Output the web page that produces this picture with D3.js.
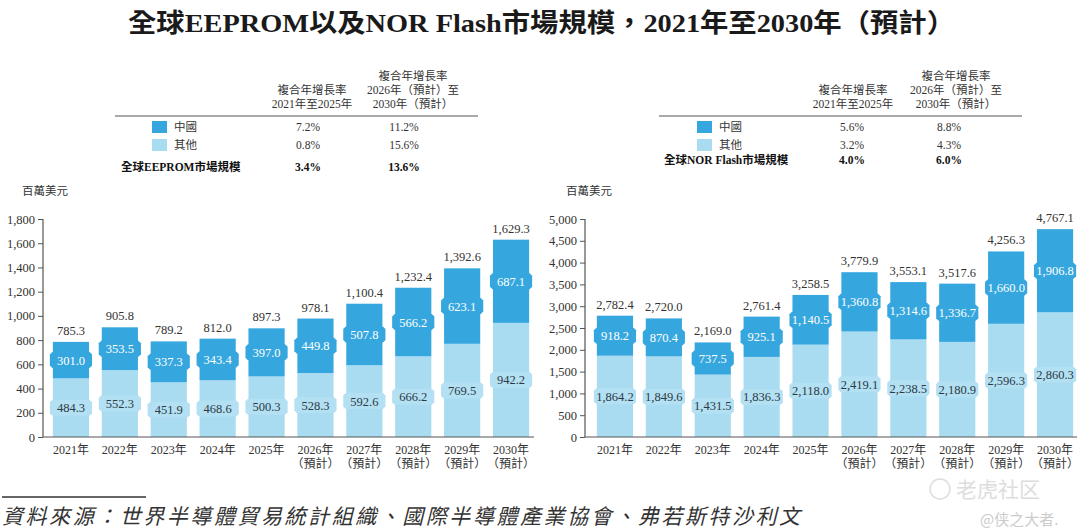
<!DOCTYPE html>
<html><head><meta charset="utf-8">
<script src="https://cdn.jsdelivr.net/npm/d3@7"></script>
<style>
body{margin:0;background:#fff;}
svg{display:block;}
text{font-family:"Liberation Serif","Noto Sans CJK TC",serif;fill:#333;}
</style></head><body>
<svg id="c" width="1080" height="531"></svg>
<script>
const years = ["2021年","2022年","2023年","2024年","2025年","2026年","2027年","2028年","2029年","2030年"];
const forecastFrom = 5; // index from which "（預計）" is shown
const eepromChina = [301.0,353.5,337.3,343.4,397.0,449.8,507.8,566.2,623.1,687.1];
const eepromOther = [484.3,552.3,451.9,468.6,500.3,528.3,592.6,666.2,769.5,942.2];
const eepromTotal = [785.3,905.8,789.2,812.0,897.3,978.1,1100.4,1232.4,1392.6,1629.3];
const norChina = [918.2,870.4,737.5,925.1,1140.5,1360.8,1314.6,1336.7,1660.0,1906.8];
const norOther = [1864.2,1849.6,1431.5,1836.3,2118.0,2419.1,2238.5,2180.9,2596.3,2860.3];
const norTotal = [2782.4,2720.0,2169.0,2761.4,3258.5,3779.9,3553.1,3517.6,4256.3,4767.1];
const eepromTicks = [0,200,400,600,800,1000,1200,1400,1600,1800];
const norTicks = [0,500,1000,1500,2000,2500,3000,3500,4000,4500,5000];
const eepromCagr = {china:["7.2%","11.2%"], other:["0.8%","15.6%"], total:["3.4%","13.6%"]};
const norCagr = {china:["5.6%","8.8%"], other:["3.2%","4.3%"], total:["4.0%","6.0%"]};

const DARK = "#36a7de", LIGHT = "#a9dcf1", LIGHTBOX = "#b3e0f3";
const svg = d3.select("#c");
const fmt = d3.format(",.1f");

// Title
svg.append("text").attr("x",128).attr("y",32)
  .attr("font-size",26).attr("font-weight","bold").style("fill","#1a1a1a")
  .attr("textLength",827).attr("lengthAdjust","spacingAndGlyphs")
  .text("全球EEPROM以及NOR Flash市場規模，2021年至2030年（預計）");

function table(g, o){
  const t = g.append("g");
  const fs = 11.5;
  t.append("text").attr("x",o.c1).attr("y",94).attr("text-anchor","middle").attr("font-size",fs).text("複合年增長率");
  t.append("text").attr("x",o.c1).attr("y",108).attr("text-anchor","middle").attr("font-size",fs).text("2021年至2025年");
  t.append("text").attr("x",o.c2).attr("y",80).attr("text-anchor","middle").attr("font-size",fs).text("複合年增長率");
  t.append("text").attr("x",o.c2).attr("y",94).attr("text-anchor","middle").attr("font-size",fs).text("2026年（預計）至");
  t.append("text").attr("x",o.c2).attr("y",108).attr("text-anchor","middle").attr("font-size",fs).text("2030年（預計）");
  t.append("line").attr("x1",o.l1).attr("x2",o.l2).attr("y1",116).attr("y2",116).attr("stroke","#555").attr("stroke-width",1.2);
  const rows = [{k:"china",lab:"中國",col:DARK,y:o.r1},{k:"other",lab:"其他",col:LIGHT,y:o.r2}];
  rows.forEach(r=>{
    t.append("rect").attr("x",o.sq).attr("y",r.y-10).attr("width",15).attr("height",12).attr("fill",r.col);
    t.append("text").attr("x",o.sq+22).attr("y",r.y).attr("font-size",fs).text(r.lab);
    t.append("text").attr("x",o.v1).attr("y",r.y).attr("text-anchor","middle").attr("font-size",fs).text(o.data[r.k][0]);
    t.append("text").attr("x",o.v2).attr("y",r.y).attr("text-anchor","middle").attr("font-size",fs).text(o.data[r.k][1]);
  });
  t.append("text").attr("x",o.bx).attr("y",o.r3).attr("font-size",fs).attr("font-weight","bold").style("fill","#111").text(o.boldLab);
  t.append("text").attr("x",o.v1).attr("y",o.r3).attr("text-anchor","middle").attr("font-size",fs).attr("font-weight","bold").style("fill","#111").text(o.data.total[0]);
  t.append("text").attr("x",o.v2).attr("y",o.r3).attr("text-anchor","middle").attr("font-size",fs).attr("font-weight","bold").style("fill","#111").text(o.data.total[1]);
}

function labelBox(g, cx, cy, w, h, fill){
  const c = 2.5;
  const x0 = cx-w/2, x1 = cx+w/2, y0 = cy-h/2, y1 = cy+h/2;
  const p = d3.path();
  p.moveTo(x0+c,y0); p.lineTo(x1-c,y0); p.lineTo(x1,y0+c); p.lineTo(x1,y1-c);
  p.lineTo(x1-c,y1); p.lineTo(x0+c,y1); p.lineTo(x0,y1-c); p.lineTo(x0,y0+c); p.closePath();
  g.append("path").attr("d",p.toString()).attr("fill",fill);
}

function chart(o){
  const g = svg.append("g");
  const x = d3.scaleBand().domain(years).range([o.a, o.a+489]).paddingInner(0.26).paddingOuter(0.13);
  const y = d3.scaleLinear().domain([0, o.max]).range([437, 219]);
  g.append("text").attr("x",o.unitX).attr("y",195).attr("font-size",11.5).text("百萬美元");
  const ya = g.append("g").attr("transform",`translate(${o.axisX},0)`)
    .call(d3.axisLeft(y).tickValues(o.ticks).tickFormat(d3.format(",")).tickSize(5).tickPadding(3));
  ya.select(".domain").attr("stroke","#555").attr("stroke-width",1.2).attr("d",`M-0,${y(o.max)}V${y(0)}`);
  ya.selectAll(".tick line").attr("stroke","#555");
  ya.selectAll(".tick text").attr("font-size",12.5).style("font-family","Liberation Serif").style("fill","#333");
  const bars = g.append("g");
  years.forEach((yr,i)=>{
    const bx = x(yr), bw = x.bandwidth(), cx = bx+bw/2;
    const o1 = o.other[i], c1 = o.china[i];
    bars.append("rect").attr("x",bx).attr("width",bw).attr("y",y(o1)).attr("height",y(0)-y(o1)).attr("fill",LIGHT);
    bars.append("rect").attr("x",bx).attr("width",bw).attr("y",y(o1+c1)).attr("height",y(o1)-y(o1+c1)).attr("fill",DARK);
    const cyL = (y(0)+y(o1))/2, cyD = (y(o1)+y(o1+c1))/2;
    labelBox(bars, cx, cyL, bw+6, 16, LIGHTBOX);
    bars.append("text").attr("x",cx).attr("y",cyL+4.5).attr("text-anchor","middle").attr("font-size",12.5).style("fill","#2b3a44").text(fmt(o1));
    labelBox(bars, cx, cyD, bw+6, 16, DARK);
    bars.append("text").attr("x",cx).attr("y",cyD+4.5).attr("text-anchor","middle").attr("font-size",12.5).style("fill","#fff").text(fmt(c1));
    bars.append("text").attr("x",cx).attr("y",y(o.total[i])-7).attr("text-anchor","middle").attr("font-size",12.5).style("fill","#333").text(fmt(o.total[i]));
    bars.append("text").attr("x",cx).attr("y",454).attr("text-anchor","middle").attr("font-size",12).text(yr);
    if(i>=forecastFrom) bars.append("text").attr("x",cx).attr("y",468).attr("text-anchor","middle").attr("font-size",12).text("（預計）");
  });
  g.append("line").attr("x1",o.axisX).attr("x2",o.xEnd).attr("y1",y(0)).attr("y2",y(0)).attr("stroke","#555").attr("stroke-width",1.2);
  return g;
}

table(svg,{c1:312,c2:413,l1:115,l2:478,sq:152,v1:308,v2:404,r1:131,r2:149,r3:171,bx:121,boldLab:"全球EEPROM市場規模",data:eepromCagr});
table(svg,{c1:853,c2:956,l1:659,l2:1022,sq:697,v1:852,v2:949,r1:131,r2:149,r3:164,bx:664,boldLab:"全球NOR Flash市場規模",data:norCagr});

chart({a:46.5,max:1800,ticks:eepromTicks,axisX:43,xEnd:534,unitX:22,china:eepromChina,other:eepromOther,total:eepromTotal});
chart({a:590.5,max:5000,ticks:norTicks,axisX:585,xEnd:1077,unitX:566,china:norChina,other:norOther,total:norTotal});

// source
svg.append("line").attr("x1",2).attr("x2",146).attr("y1",497).attr("y2",497).attr("stroke","#333").attr("stroke-width",1.5);
svg.append("text").attr("x",2).attr("y",524).attr("font-size",21).attr("font-style","italic")
  .attr("textLength",798).attr("lengthAdjust","spacing").style("fill","#333")
  .style("font-family","'Noto Sans CJK TC',sans-serif")
  .text("資料來源：世界半導體貿易統計組織、國際半導體產業協會、弗若斯特沙利文");

// watermark
svg.append("circle").attr("cx",940).attr("cy",489).attr("r",10).attr("fill","none").attr("stroke","#ddd").attr("stroke-width",1.5);
svg.append("text").attr("x",956).attr("y",497).attr("font-size",21).style("fill","#ddd").style("font-family","'Noto Sans CJK SC',sans-serif").text("老虎社区");
svg.append("text").attr("x",980).attr("y",525).attr("font-size",15).style("fill","#ccc").style("font-family","'Noto Sans CJK SC',sans-serif").text("@侠之大者.");
</script>
</body></html>
